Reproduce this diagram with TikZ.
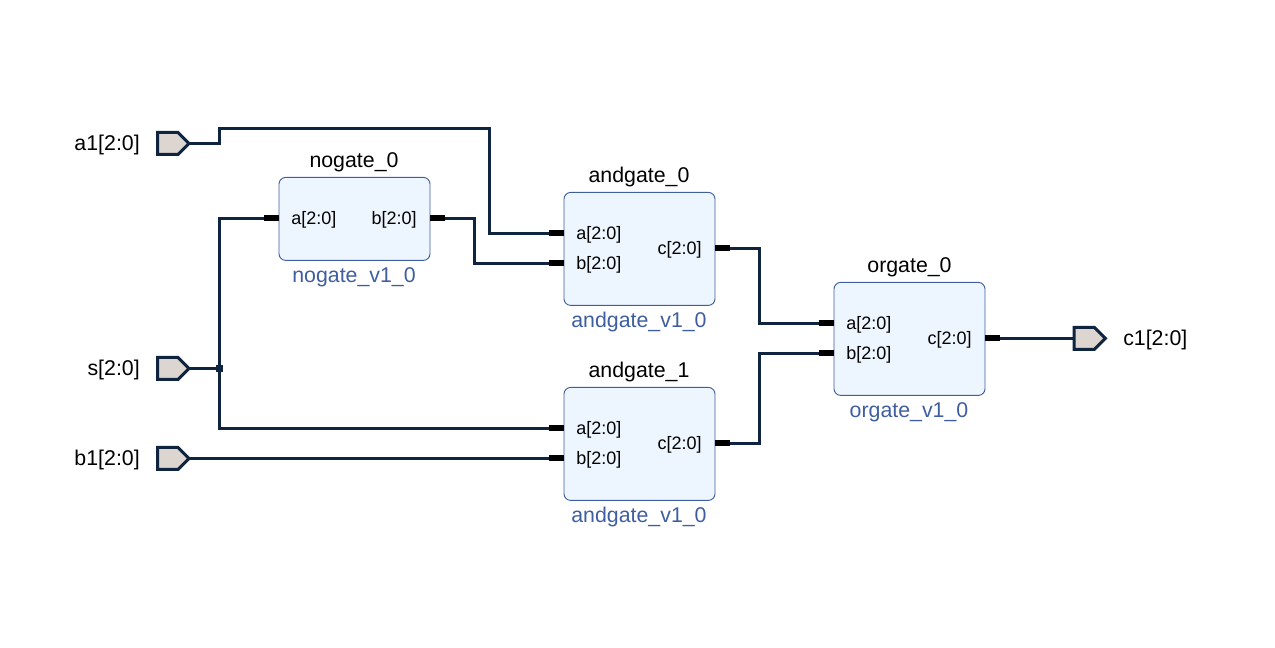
\documentclass[tikz,border=0pt]{standalone}
\usepackage{xcolor}
\usepackage{fontspec}
\setmainfont{Liberation Sans}
\usepackage{tikz}
\usetikzlibrary{shapes.symbols,fit,calc,positioning}
\definecolor{wirecol}{RGB}{15,36,62}
\definecolor{portcol}{RGB}{221,213,208}
\definecolor{blockcol}{RGB}{237,245,254}
\definecolor{edgecol}{RGB}{62,94,160}

\begin{document}
\begin{tikzpicture}[x=0.75pt,y=-0.75pt,
		wire/.style = {draw=wirecol,line width=2.25pt,line join=miter},
		block/.style = {draw=edgecol,line width=0.7pt,fill=blockcol,rounded corners=5pt,inner sep=0pt,outer sep=0pt},
		pin/.style = {fill=black,draw=none,minimum width=11.25pt,minimum height=4.5pt,inner sep=0pt,outer sep=0pt},
		port/.style = {signal,signal to=east,draw=wirecol,line width=2.25pt,fill=portcol,inner sep=0pt,outer sep=0pt,minimum width=23.5pt,minimum height=16.5pt},
		toplabel/.style = {font=\fontsize{16}{18}\selectfont,text=black,inner sep=0pt,yshift=-1.5pt},
		sublabel/.style = {font=\fontsize{16}{18}\selectfont,text=edgecol,inner sep=0pt,yshift=-1.5pt},
		pinlabel/.style = {font=\fontsize{13.5}{15}\selectfont,text=black,inner sep=0pt,yshift=-0.9pt}]
	\useasboundingbox (0,-0.4) rectangle (1275,646.6);

	% Blocks
	\node[block,fit={(279,177) (430,260)}] (nogate) {};
	\node[block,fit={(564,192) (715,305)}] (andzero) {};
	\node[block,fit={(564,387) (715,500)}] (andone) {};
	\node[block,fit={(834,282) (985,395)}] (orgate) {};

	\node[toplabel] (nogatename) at (354,160) {nogate\_0};
	\node[toplabel] (andzeroname) at (639,175) {andgate\_0};
	\node[toplabel] (andonename) at (639,370) {andgate\_1};
	\node[toplabel] (orgatename) at (909.5,265) {orgate\_0};

	\node[sublabel] (nogatesub) at (354,275) {nogate\_v1\_0};
	\node[sublabel] (andzerosub) at (639,320) {andgate\_v1\_0};
	\node[sublabel] (andonesub) at (639,515) {andgate\_v1\_0};
	\node[sublabel] (orgatesub) at (909,410) {orgate\_v1\_0};

	% Pins
	\node[pin,anchor=east] (nogatea) at (279,218) {};
	\node[pin,anchor=west] (nogateb) at (430,218) {};
	\node[pin,anchor=east] (andzeroa) at (564,233) {};
	\node[pin,anchor=east] (andzerob) at (564,263) {};
	\node[pin,anchor=west] (andzeroc) at (715,248) {};
	\node[pin,anchor=east] (andonea) at (564,428) {};
	\node[pin,anchor=east] (andoneb) at (564,458) {};
	\node[pin,anchor=west] (andonec) at (715,443) {};
	\node[pin,anchor=east] (orgatea) at (834,323) {};
	\node[pin,anchor=east] (orgateb) at (834,353) {};
	\node[pin,anchor=west] (orgatec) at (985,338) {};

	\node[pinlabel,anchor=west] (nogatealabel) at (291,218) {a[2:0]};
	\node[pinlabel,anchor=east] (nogateblabel) at (417,218) {b[2:0]};
	\node[pinlabel,anchor=west] (andzeroalabel) at (576,233) {a[2:0]};
	\node[pinlabel,anchor=west] (andzeroblabel) at (576,263) {b[2:0]};
	\node[pinlabel,anchor=east] (andzeroclabel) at (702,248) {c[2:0]};
	\node[pinlabel,anchor=west] (andonealabel) at (576,428) {a[2:0]};
	\node[pinlabel,anchor=west] (andoneblabel) at (576,458) {b[2:0]};
	\node[pinlabel,anchor=east] (andoneclabel) at (702,443) {c[2:0]};
	\node[pinlabel,anchor=west] (orgatealabel) at (846,323) {a[2:0]};
	\node[pinlabel,anchor=west] (orgateblabel) at (846,353) {b[2:0]};
	\node[pinlabel,anchor=east] (orgateclabel) at (972,338) {c[2:0]};

	% Ports
	\node[port,anchor=east] (aport) at (189,143) {};
	\node[port,anchor=east] (sport) at (189,368) {};
	\node[port,anchor=east] (bport) at (189,458) {};
	\node[port,anchor=west] (cport) at (1074,338) {};

	\node[toplabel,anchor=east] (aportlabel) at (140,143) {a1[2:0]};
	\node[toplabel,anchor=east] (sportlabel) at (140,368) {s[2:0]};
	\node[toplabel,anchor=east] (bportlabel) at (140,458) {b1[2:0]};
	\node[toplabel,anchor=west] (cportlabel) at (1123,338) {c1[2:0]};

	\node[fill=wirecol,minimum size=5.25pt,inner sep=0pt,outer sep=0pt] (junction) at (219,368) {};

	% Wires
	\draw[wire] (aport.east) -| (219,128) -| (489,233) -- (andzeroa.west);
	\draw[wire] (nogateb.east) -| (474,263) -- (andzerob.west);
	\draw[wire] (sport.east) -- (junction.center);
	\draw[wire] (junction.center) |- (nogatea.west);
	\draw[wire] (junction.center) |- (andonea.west);
	\draw[wire] (bport.east) -- (andoneb.west);
	\draw[wire] (andzeroc.east) -| (759,323) -- (orgatea.west);
	\draw[wire] (andonec.east) -| (759,353) -- (orgateb.west);
	\draw[wire] (orgatec.east) -- (cport.west);
\end{tikzpicture}
\end{document}
